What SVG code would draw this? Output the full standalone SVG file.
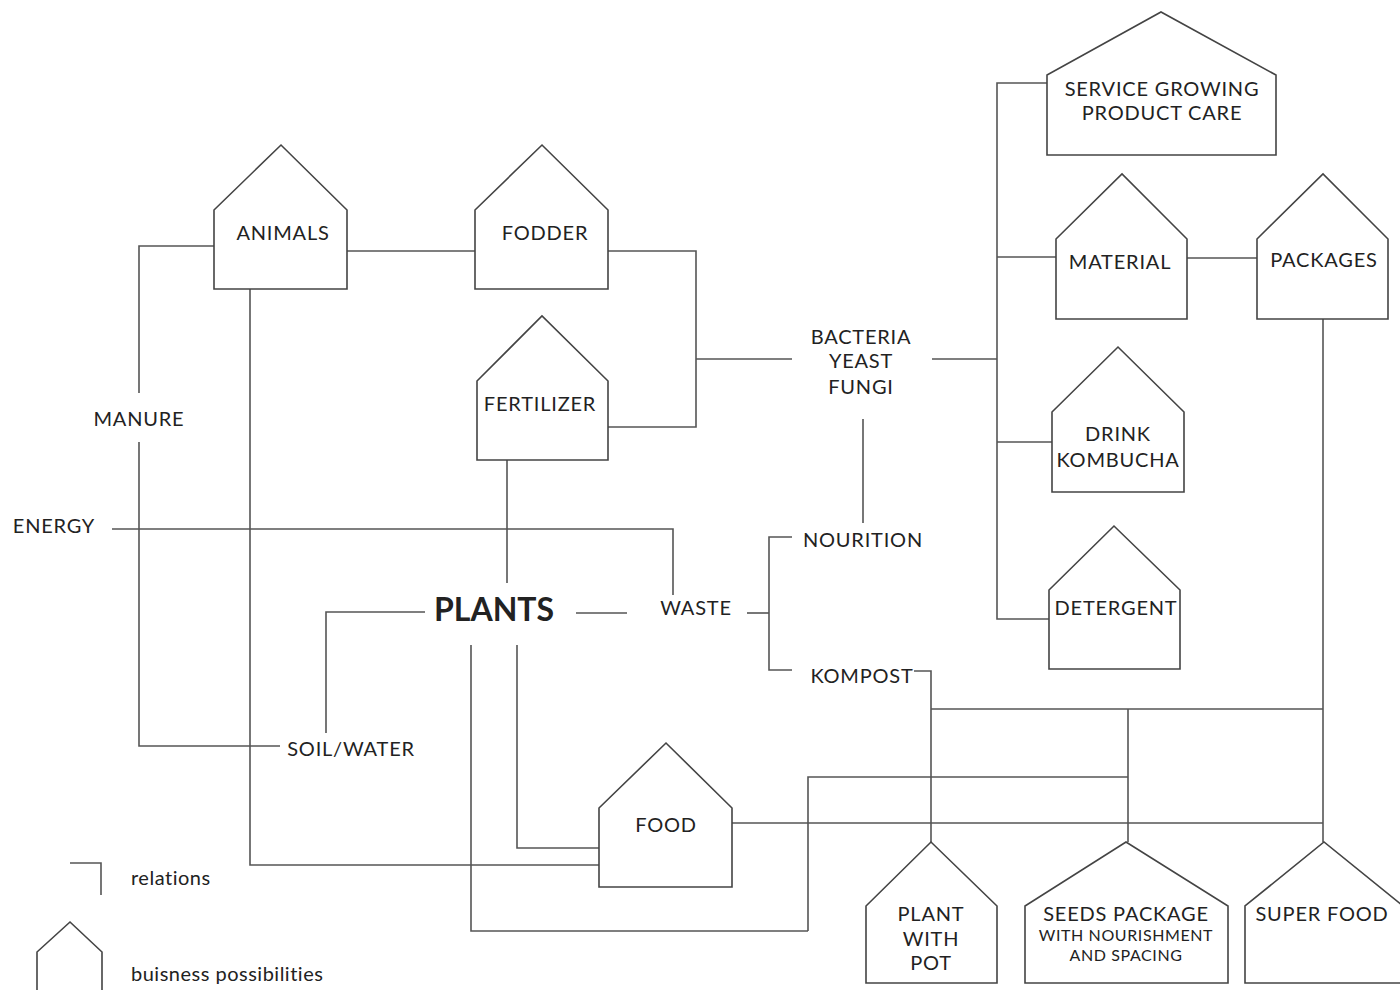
<svg xmlns="http://www.w3.org/2000/svg" width="1400" height="990" viewBox="0 0 1400 990">
<style>
.h{fill:#fff;stroke:#444;stroke-width:1.6}
.c{fill:none;stroke:#555;stroke-width:1.6}
text{font-family:Lato,"Liberation Sans",sans-serif;font-size:20px;letter-spacing:0.8px;fill:#222;text-anchor:middle}
.sm{font-size:16px;letter-spacing:0.6px}
.lg{font-size:20px;letter-spacing:0.5px;text-anchor:start}
.big{font-size:32px;font-weight:bold;letter-spacing:0}
</style>
<rect width="1400" height="990" fill="#fff"/>
<g id="connectors">
<path class="c" d="M214,246 H139 V393"/>
<path class="c" d="M139,442 V746 H280"/>
<path class="c" d="M347,251 H475"/>
<path class="c" d="M608,251 H696 V427 H608"/>
<path class="c" d="M696,359 H792"/>
<path class="c" d="M932,359 H997"/>
<path class="c" d="M1047,83 H997 V619 H1049"/>
<path class="c" d="M997,257 H1056"/>
<path class="c" d="M997,442 H1052"/>
<path class="c" d="M1187,258 H1257"/>
<path class="c" d="M1323,319 V842"/>
<path class="c" d="M863,419 V523"/>
<path class="c" d="M792,537 H769 V670 H792"/>
<path class="c" d="M747,613 H769"/>
<path class="c" d="M914,671 H931 V842"/>
<path class="c" d="M931,709 H1323"/>
<path class="c" d="M1128,709 V842"/>
<path class="c" d="M808,931 V777 H1128"/>
<path class="c" d="M732,823 H1323"/>
<path class="c" d="M517,645 V848 H599"/>
<path class="c" d="M250,289 V865 H599"/>
<path class="c" d="M471,645 V931 H808"/>
<path class="c" d="M112,529 H673 V595"/>
<path class="c" d="M507,460 V583"/>
<path class="c" d="M576,613 H627"/>
<path class="c" d="M326,733 V612 H425"/>
</g>
<g id="animals"><path class="h" d="M214,289 V210 L281,145 L347,210 V289 Z"/><text x="283" y="240">ANIMALS</text></g>
<g id="fodder"><path class="h" d="M475,289 V210 L542,145 L608,210 V289 Z"/><text x="545" y="240">FODDER</text></g>
<g id="fertilizer"><path class="h" d="M477,460 V381 L542,316 L608,381 V460 Z"/><text x="540" y="411">FERTILIZER</text></g>
<g id="service"><path class="h" d="M1047,155 V75 L1161,12 L1276,75 V155 Z"/><text x="1162" y="96">SERVICE GROWING</text><text x="1162" y="120">PRODUCT CARE</text></g>
<g id="material"><path class="h" d="M1056,319 V239 L1122,174 L1187,239 V319 Z"/><text x="1120" y="269">MATERIAL</text></g>
<g id="packages"><path class="h" d="M1257,319 V239 L1323,174 L1388,239 V319 Z"/><text x="1324" y="267">PACKAGES</text></g>
<g id="drink"><path class="h" d="M1052,492 V412 L1118,347 L1184,412 V492 Z"/><text x="1118" y="441">DRINK</text><text x="1118" y="467">KOMBUCHA</text></g>
<g id="detergent"><path class="h" d="M1049,669 V590 L1114,526 L1180,590 V669 Z"/><text x="1116" y="615">DETERGENT</text></g>
<g id="food"><path class="h" d="M599,887 V808 L666,743 L732,808 V887 Z"/><text x="666" y="832">FOOD</text></g>
<g id="plantpot"><path class="h" d="M866,983 V906 L931,842 L997,906 V983 Z"/><text x="931" y="921">PLANT</text><text x="931" y="946">WITH</text><text x="931" y="970">POT</text></g>
<g id="seeds"><path class="h" d="M1025,983 V906 L1126,842 L1228,906 V983 Z"/><text x="1126" y="921">SEEDS PACKAGE</text><text class="sm" x="1126" y="941">WITH NOURISHMENT</text><text class="sm" x="1126" y="961">AND SPACING</text></g>
<g id="superfood"><path class="h" d="M1245,983 V906 L1324,842 L1403,906 V983 Z"/><text x="1322" y="921">SUPER FOOD</text></g>
<g id="bacteria"><text x="861" y="344">BACTERIA</text><text x="861" y="368">YEAST</text><text x="861" y="394">FUNGI</text></g>
<g id="manure"><text x="139" y="426">MANURE</text></g>
<g id="energy"><text x="54" y="533">ENERGY</text></g>
<g id="plants"><text class="big" x="494" y="621">PLANTS</text></g>
<g id="waste"><text x="696" y="615">WASTE</text></g>
<g id="nourition"><text x="863" y="547">NOURITION</text></g>
<g id="kompost"><text x="862" y="683">KOMPOST</text></g>
<g id="soil"><text x="351" y="756">SOIL/WATER</text></g>
<g id="legend">
<path class="c" d="M70,863 H101 V895"/>
<text class="lg" x="131" y="885">relations</text>
<path class="h" d="M37,990 V952 L70,922 L102,952 V990"/>
<text class="lg" x="131" y="981">buisness possibilities</text>
</g>
</svg>
